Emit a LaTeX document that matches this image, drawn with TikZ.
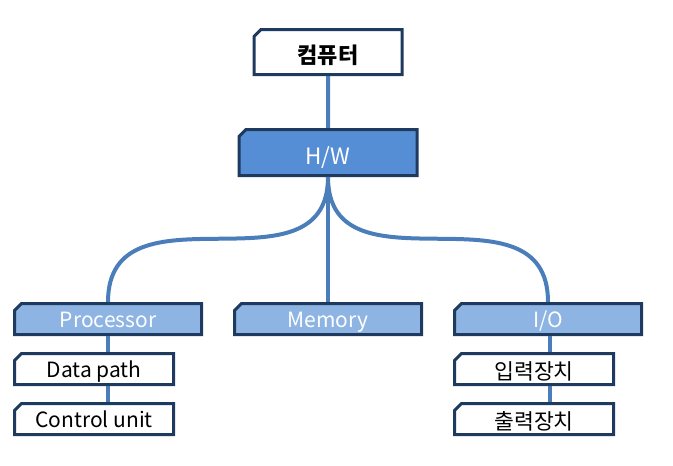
\documentclass[tikz,border=0pt]{standalone}
\usepackage{fontspec}
\setmainfont{Noto Sans CJK KR}
\usetikzlibrary{positioning, shapes.misc}

\definecolor{lineblue}{HTML}{4A7EBB}
\definecolor{boxedge}{HTML}{1F3A5F}
\definecolor{hwblue}{HTML}{558ED5}
\definecolor{partblue}{HTML}{8EB4E3}

\begin{document}
\begin{tikzpicture}[x=1pt, y=-1pt, node distance=30pt,
    box/.style={draw=boxedge, line width=3pt, chamfered rectangle,
      chamfered rectangle corners=north west, chamfered rectangle xsep=3.5pt,
      chamfered rectangle ysep=3.5pt, inner sep=0pt, font=\fontsize{21}{24}\selectfont,
      text height=19pt, text depth=2pt},
    topbox/.style={box, fill=white, minimum width=148pt, minimum height=45pt},
    hwbox/.style={box, fill=hwblue, text=white, minimum width=178pt, minimum height=46pt},
    partbox/.style={box, fill=partblue, text=white, minimum width=187pt, minimum height=31pt},
    itembox/.style={box, fill=white, minimum width=159pt, minimum height=31pt},
    hangul/.style={font=\fontsize{21.6}{24}\selectfont, text height=21pt, text depth=1pt},
    conn/.style={draw=lineblue, line width=4pt}]
  \useasboundingbox (0,0) rectangle (673,466);

  \node (comp) [topbox, font=\fontsize{22}{24}\selectfont\bfseries, text height=23pt, text depth=1pt] at (328,52) {컴퓨터};
  \node (hw) [hwbox, below=52pt of comp, font=\fontsize{22.5}{26}\selectfont, text height=25pt, text depth=2pt] {H/W};

  \node (mem) [partbox] at (328,319) {Memory};
  \node (proc) [partbox, left=of mem] {Processor};
  \node (io) [partbox, right=of mem] {I/O};

  \node (dp) [itembox, below=16pt of proc, xshift=-14pt] {Data path};
  \node (cu) [itembox, below=16pt of dp] {Control unit};
  \node (in) [itembox, hangul, below=16pt of io, xshift=-14pt] {입력장치};
  \node (out) [itembox, hangul, below=16pt of in] {출력장치};

  % connectors
  \draw[conn] (comp) -- (hw);
  \draw[conn] (hw.south) .. controls +(0,122) and +(0,-124) .. (proc.north);
  \draw[conn] (hw.south) -- (mem.north);
  \draw[conn] (hw.south) .. controls +(0,122) and +(0,-124) .. (io.north);
  \draw[conn] (proc.south) -- (proc.south |- dp.north);
  \draw[conn] (proc.south |- dp.south) -- (proc.south |- cu.north);
  \draw[conn] ([xshift=2pt]io.south) -- ([xshift=2pt]io.south |- in.north);
  \draw[conn] ([xshift=2pt]io.south |- in.south) -- ([xshift=2pt]io.south |- out.north);
\end{tikzpicture}
\end{document}
